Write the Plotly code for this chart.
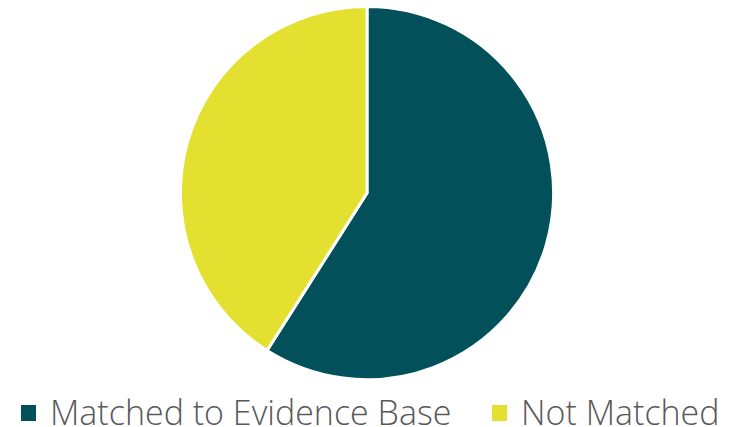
import plotly.graph_objects as go

labels = ["Matched to Evidence Base", "Not Matched"]
values = [59, 41]
colors = ["#02505A", "#E4E02F"]

W, H = 736, 427

fig = go.Figure()
fig.add_trace(go.Pie(
    labels=labels,
    values=values,
    sort=False,
    direction="clockwise",
    rotation=0,
    textinfo="none",
    hoverinfo="label+percent",
    showlegend=False,
    domain=dict(x=[0, 734 / W], y=[0.111, 0.985]),
    marker=dict(colors=colors, line=dict(color="white", width=3)),
))

# Legend built as layout decorations (swatch + label), positioned in paper space
swatch_x = [(21, 36), (492, 507)]
label_x = [48, 519]
sw_y0, sw_y1 = 405, 421
for (x0, x1), lx, lab, col in zip(swatch_x, label_x, labels, colors):
    fig.add_shape(type="rect", xref="paper", yref="paper",
                  x0=x0 / W, x1=x1 / W, y0=(H - sw_y1) / H, y1=(H - sw_y0) / H,
                  fillcolor=col, line=dict(width=0))
    fig.add_annotation(text=lab, xref="paper", yref="paper",
                       x=lx / W, y=(H - 412) / H, xanchor="left", yanchor="middle",
                       showarrow=False,
                       font=dict(family="'Open Sans', sans-serif", size=34,
                                 color="#595959", weight=300))

fig.update_layout(
    width=W, height=H,
    margin=dict(l=0, r=0, t=0, b=0),
    paper_bgcolor="white",
    plot_bgcolor="white",
    showlegend=False,
)

fig.write_html("out.html")
